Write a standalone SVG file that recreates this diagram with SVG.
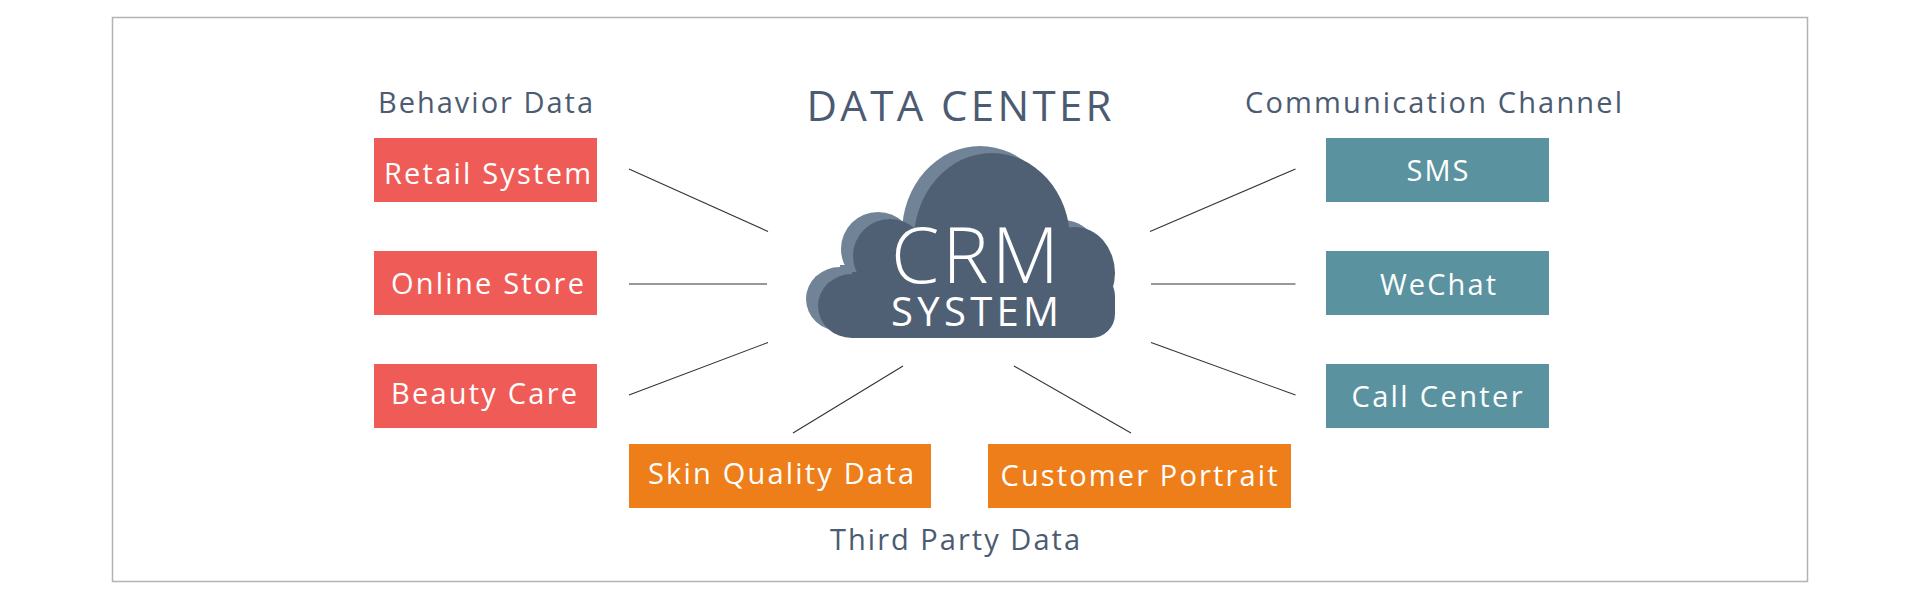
<svg xmlns="http://www.w3.org/2000/svg" xmlns:xlink="http://www.w3.org/1999/xlink" width="1920" height="600" viewBox="0 0 1920 600">
  <style>
    .frame { fill: #ffffff; stroke: #b3b3b3; stroke-width: 1.5; }
    .title { font-family: "Open Sans", "Noto Sans", "Liberation Sans", sans-serif; fill: #4b5b71; text-anchor: middle; }
    .lbl { font-family: "Open Sans", "Noto Sans", "Liberation Sans", sans-serif; fill: #ffffff; font-size: 29px; text-anchor: middle; }
    .crm { font-family: "Open Sans", "Noto Sans", "Liberation Sans", sans-serif; fill: #ffffff; text-anchor: middle; }
    .red { fill: #ef5c57; }
    .teal { fill: #5a939f; }
    .orange { fill: #ee7e1a; }
    .conn line { stroke: #333333; stroke-width: 1.1; }
  </style>
  <defs>
    <g id="cloudShape">
      <ellipse cx="852" cy="306" rx="34" ry="32"/>
      <circle cx="890" cy="256" r="37"/>
      <ellipse cx="992" cy="240" rx="78" ry="87"/>
      <ellipse cx="1075" cy="273" rx="40" ry="46"/>
      <path d="M852,272 H1091 A24,24 0 0 1 1115,296 V314 A24,24 0 0 1 1091,338 H852 Z"/>
    </g>
  </defs>

  <rect class="frame" x="112.5" y="17.5" width="1695" height="564"/>

  <g id="labels">
    <text class="title" x="485.5" y="113" font-size="29" textLength="215" lengthAdjust="spacing">Behavior Data</text>
    <text class="title" x="1433.5" y="113" font-size="29" textLength="377" lengthAdjust="spacing">Communication Channel</text>
    <text class="title" x="959" y="121" font-size="42" textLength="305" lengthAdjust="spacing">DATA CENTER</text>
    <text class="title" x="955" y="550" font-size="29" textLength="250" lengthAdjust="spacing">Third Party Data</text>
  </g>

  <g id="connectors" class="conn">
    <line x1="629" y1="169" x2="768" y2="231.5"/>
    <line x1="629" y1="284" x2="767" y2="284"/>
    <line x1="629" y1="395" x2="768" y2="342.5"/>
    <line x1="793" y1="433" x2="903" y2="366"/>
    <line x1="1014" y1="366" x2="1131" y2="433"/>
    <line x1="1150" y1="231.5" x2="1295.5" y2="169"/>
    <line x1="1151" y1="284" x2="1295.5" y2="284"/>
    <line x1="1151" y1="342.5" x2="1295.5" y2="395"/>
  </g>

  <g id="crm-cloud">
    <use xlink:href="#cloudShape" href="#cloudShape" transform="translate(-12,-7)" fill="#718397"/>
    <use xlink:href="#cloudShape" href="#cloudShape" fill="#4f6075"/>
    <text class="crm" x="975" y="283" font-size="78" font-weight="300" textLength="168" lengthAdjust="spacing">CRM</text>
    <text class="crm" x="975" y="326" font-size="40" textLength="168" lengthAdjust="spacing">SYSTEM</text>
  </g>

  <g id="retail-system">
    <rect class="red" x="374" y="138" width="223" height="64"/>
    <text class="lbl" x="487.5" y="184" textLength="207" lengthAdjust="spacing">Retail System</text>
  </g>
  <g id="online-store">
    <rect class="red" x="374" y="251" width="223" height="64"/>
    <text class="lbl" x="487.5" y="294" textLength="193" lengthAdjust="spacing">Online Store</text>
  </g>
  <g id="beauty-care">
    <rect class="red" x="374" y="364" width="223" height="64"/>
    <text class="lbl" x="484" y="404" textLength="186" lengthAdjust="spacing">Beauty Care</text>
  </g>

  <g id="sms">
    <rect class="teal" x="1326" y="138" width="223" height="64"/>
    <text class="lbl" x="1437.5" y="181" textLength="62" lengthAdjust="spacing">SMS</text>
  </g>
  <g id="wechat">
    <rect class="teal" x="1326" y="251" width="223" height="64"/>
    <text class="lbl" x="1438" y="295" textLength="116" lengthAdjust="spacing">WeChat</text>
  </g>
  <g id="call-center">
    <rect class="teal" x="1326" y="364" width="223" height="64"/>
    <text class="lbl" x="1437" y="407" textLength="171" lengthAdjust="spacing">Call Center</text>
  </g>

  <g id="skin-quality-data">
    <rect class="orange" x="629" y="444" width="302" height="64"/>
    <text class="lbl" x="781" y="484" textLength="266" lengthAdjust="spacing">Skin Quality Data</text>
  </g>
  <g id="customer-portrait">
    <rect class="orange" x="988" y="444" width="303" height="64"/>
    <text class="lbl" x="1139" y="486" textLength="277" lengthAdjust="spacing">Customer Portrait</text>
  </g>
</svg>
